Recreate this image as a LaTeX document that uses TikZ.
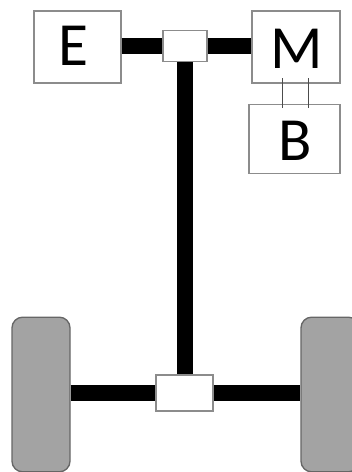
\documentclass[tikz,border=0pt]{standalone}
\usepackage{fontspec}
\setmainfont{Carlito}

\begin{document}
\begin{tikzpicture}[
  x=0.75pt,y=-0.75pt,
  box/.style={draw=black!45,fill=white,line width=1.1pt,inner sep=0pt},
  wheel/.style={draw=black!60,fill=black!36,line width=1pt,rounded corners=8pt,
    minimum width=43.5pt,minimum height=116pt,inner sep=0pt},
  shaft/.style={black,line width=12.4pt},
  wire/.style={black!70,line width=0.6pt},
  letter/.style={font=\fontsize{46}{46}\selectfont}]

  \useasboundingbox (0,0) rectangle (352,472);
  \clip (0,0) rectangle (352,472);

  \node[box,minimum width=65pt,minimum height=54pt] (engine) at (77.5,47) {};
  \node[box,minimum width=66pt,minimum height=54pt] (motor) at (296,47) {};
  \node[box,minimum width=68pt,minimum height=52pt] (battery) at (294.5,139) {};
  \node[box,minimum width=33pt,minimum height=23pt] (gearbox) at (185,46) {};
  \node[box,minimum width=43pt,minimum height=27pt] (diff) at (184.5,393) {};
  \node[wheel] (wheelL) at (41,394.5) {};
  \node[wheel] (wheelR) at (330,394.5) {};

  \coordinate (motorA) at (282,78);
  \coordinate (motorB) at (308,78);
  \coordinate (batteryA) at (282,108);
  \coordinate (batteryB) at (308,108);

  \draw[shaft] (engine.east |- gearbox.west) -- (gearbox.west);
  \draw[shaft] (gearbox.east) -- (motor.west |- gearbox.east);
  \draw[shaft] (gearbox.south) -- (gearbox.south |- diff.north);
  \draw[shaft] (wheelL.east |- diff.west) -- (diff.west);
  \draw[shaft] (diff.east) -- (wheelR.west |- diff.east);
  \draw[wire] (motorA) -- (batteryA);
  \draw[wire] (motorB) -- (batteryB);

  \node[letter] (labelE) at (73,45.5) {E};
  \node[letter] (labelM) at (297,49) {M};
  \node[letter] (labelB) at (295,141) {B};
\end{tikzpicture}
\end{document}
